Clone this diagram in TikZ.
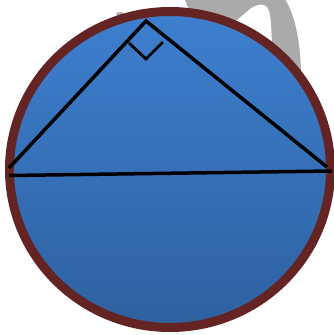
\documentclass[tikz,border=0pt]{standalone}
\definecolor{rimred}{RGB}{99,36,35}
\definecolor{bluetop}{RGB}{61,127,207}
\definecolor{bluebot}{RGB}{46,97,160}
\definecolor{hookgray}{RGB}{170,170,170}
\definecolor{shadowgray}{RGB}{172,172,172}
\begin{document}
\begin{tikzpicture}[x=1pt,y=-1pt,
  legline/.style={line width=3.5pt, line join=miter},
  anglemark/.style={line width=2.8pt, line join=miter}]
\useasboundingbox (0,0) rectangle (334,335);
% gray hook behind the disc
\fill[hookgray] (183,-5) -- (282,-5) .. controls (294,10) and (301,40) .. (301,78)
  -- (255,85) -- (272,42) .. controls (271,25) and (271,11) .. (267,7)
  .. controls (264,3) and (257,4) .. (251,8) -- (225,30) -- (195,25) -- cycle;
% shadow
\fill[shadowgray] (170,171.5) ellipse [x radius=161pt, y radius=159.5pt];
\fill[shadowgray] (120,14) ellipse [x radius=4pt, y radius=2pt];
% disc
\shade[top color=bluetop, bottom color=bluebot] (170,169.5) ellipse [x radius=160.5pt, y radius=158pt];
\draw[rimred, line width=9pt] (170,169.5) ellipse [x radius=160.5pt, y radius=158pt];
% triangle
\coordinate (T) at (146,21);
\coordinate (L) at (9,168);
\coordinate (R) at (327,167);
\coordinate (HL) at (9,175.5);
\coordinate (HR) at (332,171);
\coordinate (M1) at (129,43);
\coordinate (M2) at (146,59);
\coordinate (M3) at (163,42);
\draw[legline] (L) -- (T) -- (R);
\draw[legline] (HL) -- (HR);
\draw[anglemark] (M1) -- (M2) -- (M3);
\end{tikzpicture}
\end{document}
